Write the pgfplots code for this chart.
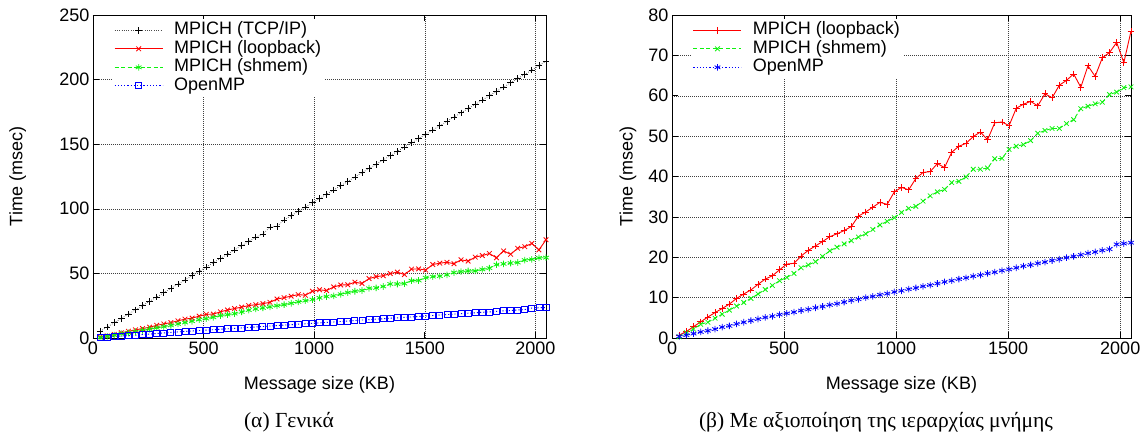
\documentclass[border=0pt]{standalone}
\usepackage{fontspec}
\setmainfont{Liberation Sans}
\newfontfamily\capfont{Liberation Serif}
\usepackage{pgfplots}
\usepackage{pgfplotstable}
\pgfplotsset{compat=1.18}
\definecolor{gred}{rgb}{1,0,0}
\definecolor{ggreen}{rgb}{0.05,0.95,0.05}
\definecolor{gblue}{rgb}{0,0,1}

\pgfplotstableread{
x tcp loop shmem omp
32 5.2 0.7 0.3 0.4
64 8.5 1.6 1.3 0.7
96 11.8 2.8 2.2 1.1
128 15.2 4.0 3.4 1.5
160 18.5 5.2 3.9 1.8
192 21.8 6.3 4.9 2.2
224 25.1 7.3 5.9 2.7
256 28.4 8.4 6.9 3.0
288 31.7 9.8 7.9 3.5
320 35.1 10.9 8.8 3.9
352 38.4 11.9 9.8 4.3
384 41.7 13.3 10.9 4.7
416 45.0 14.6 12.0 5.1
448 48.3 15.4 13.0 5.4
480 51.6 16.9 14.2 5.8
512 54.9 18.3 15.0 6.1
544 58.3 18.5 16.0 6.4
576 61.6 20.3 17.4 6.8
608 64.9 21.7 18.1 7.1
640 68.2 22.8 18.9 7.5
672 71.5 23.9 20.2 7.8
704 74.8 25.1 21.6 8.2
736 78.1 25.8 22.5 8.5
768 80.5 26.6 23.3 8.9
800 85.8 27.6 24.1 9.3
832 86.4 30.2 25.0 9.6
864 91.4 31.2 25.8 10.0
896 94.7 32.4 26.9 10.3
928 98.0 33.6 28.0 10.7
960 101.4 33.1 28.9 11.0
992 104.7 36.2 29.8 11.4
1024 108.0 37.3 31.1 11.7
1056 111.3 36.7 32.1 12.1
1088 114.6 39.5 32.6 12.4
1120 117.9 41.0 33.9 12.8
1152 121.2 41.2 35.2 13.1
1184 124.6 43.2 36.2 13.5
1216 127.9 42.2 36.8 13.9
1248 131.2 46.0 38.5 14.2
1280 134.5 47.5 38.8 14.6
1312 137.8 48.2 39.9 14.9
1344 141.1 49.9 41.8 15.3
1376 144.5 51.0 41.8 15.6
1408 147.8 49.1 42.1 16.0
1440 151.1 53.3 44.4 16.3
1472 154.4 53.5 44.5 16.7
1504 157.7 52.6 46.7 17.0
1536 161.0 56.9 47.5 17.4
1568 164.3 57.9 47.9 17.8
1600 167.7 58.6 48.9 18.1
1632 171.0 57.5 50.7 18.5
1664 174.3 60.5 51.4 18.8
1696 177.6 59.5 51.9 19.2
1728 180.9 62.6 51.9 19.5
1760 184.2 63.8 53.1 19.9
1792 187.6 65.4 54.1 20.2
1824 190.9 62.1 56.8 20.6
1856 194.2 67.4 57.4 21.0
1888 197.5 64.8 58.0 21.3
1920 200.8 69.4 58.4 21.7
1952 204.1 70.7 60.3 22.0
1984 207.4 73.2 60.9 23.2
2016 210.8 68.2 62.0 23.4
2048 214.1 76.0 62.2 23.6
}\data

\pgfplotsset{
  gp/.style={
    scale only axis,
    xmin=0, xmax=2048,
    xtick={0,500,1000,1500,2000},
    tick align=inside,
    major tick length=6pt,
    tick style={black, line width=0.6pt},
    axis line style={black, line width=0.9pt},
    grid=major,
    major grid style={black!75, line width=0.5pt, dash pattern=on 0.8pt off 1.2pt},
    /pgf/number format/assume math mode=true,
    /pgf/number format/1000 sep={},
    tick label style={font=\fontsize{18}{20}\selectfont},
    xlabel={Message size (KB)},
    ylabel={Time (msec)},
    xlabel style={at={(axis description cs:0.5,-0.145)}, anchor=center, font=\fontsize{18}{20}\selectfont},
    legend cell align=left,
    legend style={draw=none, fill=white, inner sep=2pt, row sep=0pt, column sep=0pt,
      font=\fontsize{18}{20}\selectfont,
      nodes={inner sep=1pt, text height=12.5pt, text depth=4pt},
      anchor=north west},
    legend image code/.code={
      \draw[mark repeat=2,mark phase=2] plot coordinates {(0pt,0pt) (24pt,0pt) (48pt,0pt)};
      \path (58pt,0pt);},
  },
}

\begin{document}
\begin{tikzpicture}
\useasboundingbox (0pt,0pt) rectangle (1143pt,437pt);

\begin{axis}[gp,
  at={(93pt,99pt)}, anchor=south west,
  width=453pt, height=323pt,
  ymin=0, ymax=250, ytick={0,50,...,250},
  ylabel style={at={(axis description cs:-0.166,0.5)}, anchor=center, rotate=0, font=\fontsize{18}{20}\selectfont},
  legend style={at={(axis description cs:0.042,0.988)}},
]
\addplot[black!70, line width=0.6pt, dash pattern=on 0.8pt off 1.5pt, mark=+, mark size=3.3pt, mark options={solid, black, line width=0.7pt}] table[x=x,y=tcp] {\data};
\addlegendentry{MPICH (TCP/IP)}
\addplot[gred, line width=0.9pt, mark=x, mark size=3.3pt, mark options={solid, line width=0.8pt}] table[x=x,y=loop] {\data};
\addlegendentry{MPICH (loopback)}
\addplot[ggreen, line width=0.9pt, dash pattern=on 4pt off 2.5pt, mark=asterisk, mark size=3.3pt, mark options={solid, line width=0.8pt}] table[x=x,y=shmem] {\data};
\addlegendentry{MPICH (shmem)}
\addplot[gblue, line width=0.9pt, dash pattern=on 1.2pt off 2pt, mark=square, mark size=3pt, mark options={solid, line width=0.8pt}] table[x=x,y=omp] {\data};
\addlegendentry{OpenMP}
\end{axis}

\begin{axis}[gp,
  at={(672pt,99pt)}, anchor=south west,
  width=459pt, height=323pt,
  ymin=0, ymax=80, ytick={0,10,...,80},
  ylabel style={at={(axis description cs:-0.096,0.5)}, anchor=center, rotate=0, font=\fontsize{18}{20}\selectfont},
  legend style={at={(axis description cs:0.041,0.988)}},
]
\addplot[gred, line width=0.9pt, mark=+, mark size=3.3pt, mark options={solid, line width=0.8pt}] table[x=x,y=loop] {\data};
\addlegendentry{MPICH (loopback)}
\addplot[ggreen, line width=0.9pt, dash pattern=on 4pt off 2.5pt, mark=x, mark size=3.3pt, mark options={solid, line width=0.8pt}] table[x=x,y=shmem] {\data};
\addlegendentry{MPICH (shmem)}
\addplot[gblue, line width=0.9pt, dash pattern=on 1.2pt off 2pt, mark=asterisk, mark size=3.3pt, mark options={solid, line width=0.8pt}] table[x=x,y=omp] {\data};
\addlegendentry{OpenMP}
\end{axis}

\node[font=\capfont\fontsize{21.5}{24}\selectfont, anchor=center] at (289pt,15pt) {(α) Γενικά};
\node[font=\capfont\fontsize{21.5}{24}\selectfont, anchor=center] at (876pt,15pt) {(β) Με αξιοποίηση της ιεραρχίας μνήμης};
\end{tikzpicture}
\end{document}
